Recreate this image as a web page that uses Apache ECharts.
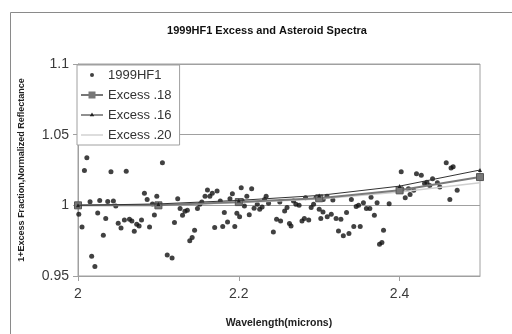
<!DOCTYPE html>
<html>
<head>
<meta charset="utf-8">
<script src="https://cdn.jsdelivr.net/npm/echarts@6/dist/echarts.min.js"></script>
<style>html,body{margin:0;padding:0;background:#fff;}#chart{width:512px;height:334px;}</style>
</head>
<body>
<div id="chart"></div>
<script>
var titleText = '1999HF1 Excess and Asteroid Spectra';
var xName = 'Wavelength(microns)';
var yName = '1+Excess Fraction,Normalized Reflectance';
var seriesNames = ['1999HF1', 'Excess .18', 'Excess .16', 'Excess .20'];

var hfWavelength = [2.001,2.005,2.008,2.011,2.015,2.017,2.021,2.0245,2.027,2.0315,2.0345,2.037,2.041,2.044,2.047,2.050,2.0535,2.0577,2.060,2.064,2.067,2.070,2.073,2.076,2.079,2.0826,2.086,2.089,2.0926,2.095,2.098,2.105,2.111,2.117,2.120,2.124,2.127,2.130,2.133,2.136,2.139,2.142,2.145,2.1486,2.1515,2.154,2.158,2.161,2.164,2.167,2.170,2.173,2.177,2.180,2.182,2.186,2.189,2.192,2.195,2.1976,2.201,2.203,2.204,2.207,2.210,2.213,2.216,2.219,2.223,2.226,2.229,2.232,2.234,2.237,2.243,2.247,2.251,2.252,2.257,2.260,2.263,2.265,2.268,2.271,2.275,2.2786,2.2815,2.283,2.287,2.290,2.293,2.296,2.300,2.302,2.3047,2.305,2.3097,2.310,2.315,2.317,2.321,2.324,2.327,2.330,2.334,2.337,2.340,2.343,2.346,2.349,2.351,2.355,2.3587,2.363,2.3645,2.3686,2.372,2.375,2.378,2.380,2.387,2.402,2.403,2.407,2.411,2.413,2.4176,2.421,2.427,2.431,2.434,2.4375,2.441,2.447,2.450,2.458,2.4625,2.464,2.4666,2.4716];
var hfReflectance = [0.9937,0.9847,1.0246,1.0336,1.0026,0.9639,0.9568,0.9946,1.0035,0.9789,0.9906,1.0028,1.0237,1.003,0.9995,0.9873,0.984,0.9897,1.0242,0.9901,0.989,0.9817,0.9866,0.9854,0.9897,1.0085,1.0042,0.9847,1.0009,0.9932,1.0065,1.0301,0.9648,0.9627,0.9878,1.0047,0.9977,0.993,0.9958,0.9965,0.9749,0.9772,0.9824,0.9977,1.0007,1.0023,1.0065,1.0108,1.0065,1.0085,0.9843,1.0101,1.003,0.985,0.9949,0.9882,1.0047,1.0082,0.985,0.9944,0.992,1.0125,1.0035,0.9995,1.0065,0.9934,1.0117,0.9979,1.0007,0.9972,0.9988,1.0042,1.0065,1.0014,0.9812,0.9901,1.0023,0.989,0.996,0.9984,0.9871,0.9854,1.003,1.0007,1.0,0.989,0.9906,1.0054,0.9897,0.9984,1.0007,1.0054,0.9972,0.9906,0.9953,1.0042,1.0065,0.992,0.9937,1.0037,0.9906,0.9819,0.9901,0.9784,0.9949,0.98,1.0042,0.985,0.9991,1.0,0.985,1.0019,0.9977,0.9977,1.0058,0.993,1.0019,0.9725,0.9737,0.9824,1.0012,1.0237,1.0113,1.0054,1.0117,1.0077,1.0106,1.0223,1.0213,1.0155,1.0164,1.0141,1.0188,1.016,1.0129,1.0301,1.0042,1.0265,1.0273,1.0106];

var excessWavelength = [2.0, 2.1, 2.2, 2.3, 2.4, 2.5];
var excess18 = [1.000, 1.000, 1.0023, 1.005, 1.0106, 1.020];
var excess16 = [1.000, 1.001, 1.0035, 1.007, 1.0136, 1.025];
var excess20 = [1.000, 1.000, 1.0018, 1.0045, 1.0095, 1.016];

var yTicks = {min: 0.95, max: 1.1, interval: 0.05};
var xTicks = {min: 2.0, max: 2.5, interval: 0.2};

function zip(a, b) { return a.map(function (v, i) { return [v, b[i]]; }); }

var chart = echarts.init(document.getElementById('chart'), null, {renderer: 'canvas'});
var font = 'Liberation Sans, Arial, sans-serif';
chart.setOption({
  animation: false,
  backgroundColor: '#ffffff',
  title: {
    text: titleText, left: 262, top: 20, textAlign: 'center',
    textStyle: {fontFamily: font, fontSize: 11, fontWeight: 'bold', color: '#111'}
  },
  graphic: [{
    type: 'rect', left: 8, top: 10, silent: true, z: -10,
    shape: {width: 700, height: 500},
    style: {fill: 'none', stroke: '#8a8a8a', lineWidth: 1}
  }],
  grid: {left: 78, top: 64, right: 32, bottom: 57, show: true, borderColor: '#a0a0a0', borderWidth: 1, backgroundColor: '#fff'},
  legend: {
    orient: 'vertical', left: 77, top: 65,
    padding: [3, 8, 3, 4], itemGap: 6, itemWidth: 22, itemHeight: 14,
    backgroundColor: '#fff', borderColor: '#a0a0a0', borderWidth: 1,
    textStyle: {fontFamily: font, fontSize: 13, color: '#333'},
    itemStyle: {borderWidth: 0},
    data: [
      {name: seriesNames[0], icon: 'path://M0,0M22,14M9,7a2,2 0 1,0 4,0a2,2 0 1,0 -4,0'},
      {name: seriesNames[1], icon: 'path://M0,0M22,14M0,6h22v2h-22zM7.5,3.5h7v7h-7z'},
      {name: seriesNames[2], icon: 'path://M0,0M22,14M0,6.5h22v1h-22zM11,4.5l2.2,3.8h-4.4z'},
      {name: seriesNames[3], icon: 'path://M0,0M22,14M0,6.3h22v1.4h-22z'}
    ]
  },
  xAxis: {
    type: 'value', min: xTicks.min, max: xTicks.max, interval: xTicks.interval,
    name: xName, nameLocation: 'middle', nameGap: 42,
    nameTextStyle: {fontFamily: font, fontSize: 10.5, fontWeight: 'bold', color: '#222'},
    axisLine: {show: true, lineStyle: {color: '#a0a0a0'}},
    axisTick: {show: true, length: 5, lineStyle: {color: '#a0a0a0'}},
    axisLabel: {fontFamily: font, fontSize: 14, color: '#3a3a3a', margin: 11, showMaxLabel: false},
    splitLine: {show: false}
  },
  yAxis: {
    type: 'value', min: yTicks.min, max: yTicks.max, interval: yTicks.interval,
    name: yName, nameLocation: 'middle', nameGap: 52, nameRotate: 90,
    nameTextStyle: {fontFamily: font, fontSize: 9, fontWeight: 'bold', color: '#222'},
    axisLine: {show: true, lineStyle: {color: '#a0a0a0'}},
    axisTick: {show: true, length: 5, lineStyle: {color: '#a0a0a0'}},
    axisLabel: {fontFamily: font, fontSize: 14, color: '#3a3a3a', margin: 9},
    splitLine: {show: true, lineStyle: {color: '#a0a0a0', width: 1}}
  },
  series: [
    {
      name: seriesNames[0], type: 'scatter', data: zip(hfWavelength, hfReflectance),
      symbol: 'circle', symbolSize: 5, itemStyle: {color: '#111'}, z: 2
    },
    {
      name: seriesNames[1], type: 'line', data: zip(excessWavelength, excess18),
      symbol: 'rect', symbolSize: 7, showAllSymbol: true,
      lineStyle: {color: '#7a7a7a', width: 2},
      itemStyle: {color: '#777', borderColor: '#555', borderWidth: 1}, z: 4
    },
    {
      name: seriesNames[2], type: 'line', data: zip(excessWavelength, excess16),
      symbol: 'triangle', symbolSize: 4, showAllSymbol: true,
      lineStyle: {color: '#333', width: 1},
      itemStyle: {color: '#222'}, z: 5
    },
    {
      name: seriesNames[3], type: 'line', data: zip(excessWavelength, excess20),
      symbol: 'none',
      lineStyle: {color: '#cfcfcf', width: 1.5},
      itemStyle: {color: '#cfcfcf'}, z: 3
    }
  ]
});
</script>
</body>
</html>
